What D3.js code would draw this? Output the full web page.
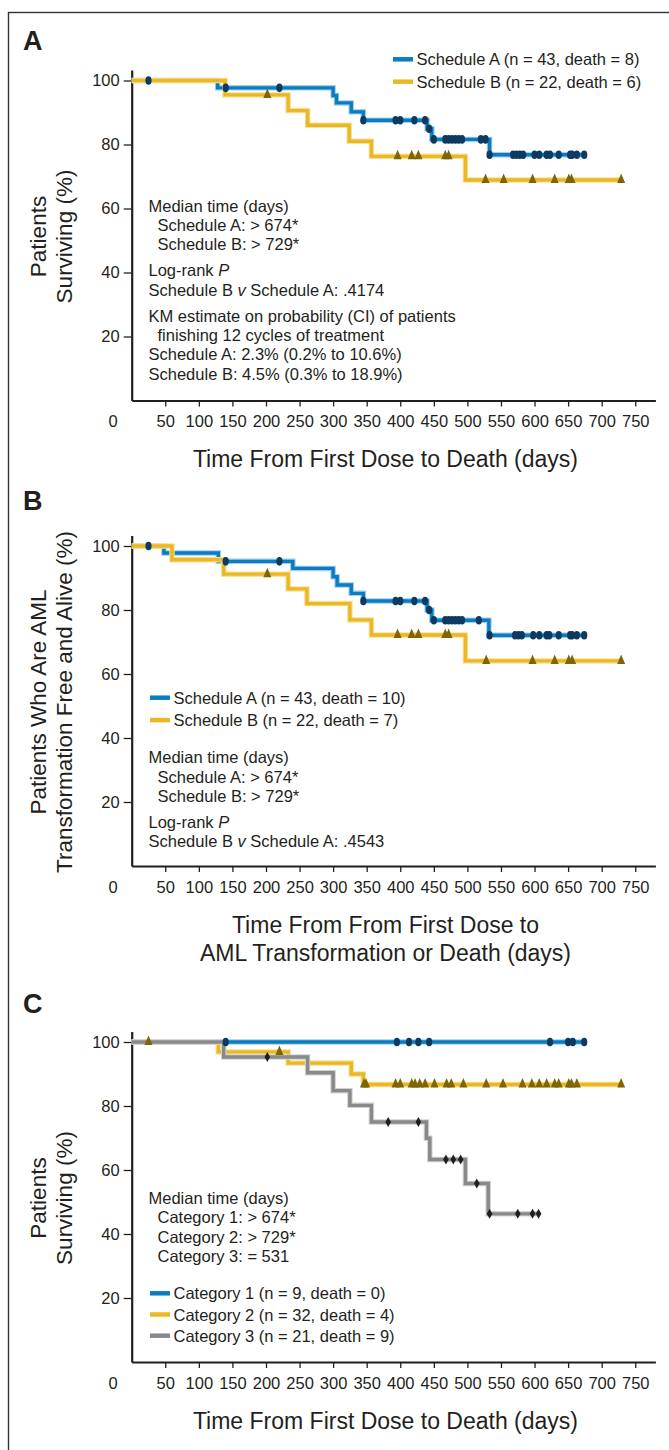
<!DOCTYPE html>
<meta charset="utf-8">
<head>
  <title>Kaplan-Meier curves</title>
  <script src="https://d3js.org/d3.v7.min.js"></script>
  <style>
    body { margin: 0; background: #fff; }
    svg text { font-family: "Liberation Sans", Arial, sans-serif; fill: #231f20; }
    .axis path, .axis line { stroke: #231f20; }
  </style>
</head>
<body>
<svg></svg>
<script>
// ---- data (days, % surviving) ----
var xTicks = [50, 100, 150, 200, 250, 300, 350, 400, 450, 500, 550, 600, 650, 700, 750];
var yTicks = [20, 40, 60, 80, 100];

// panel A: overall survival
var aSchedA_steps = [128, 300, 305, 327, 345, 440, 447, 533];
var aSchedA_vals  = [97.7, 95.3, 93.0, 90.2, 87.6, 84.9, 81.6, 76.8];
var aSchedA_cens  = [25, 140, 220, 345, 393, 400, 421, 437, 443, 450, 467, 472, 477, 482, 487, 492,
                     520, 527, 533, 568, 573, 578, 583, 600, 607, 618, 623, 636, 653, 656, 663, 674];
var aSchedB_steps = [139, 233, 262, 324, 357, 497];
var aSchedB_vals  = [95.5, 90.6, 86.0, 81.0, 76.3, 68.9];
var aSchedB_cens  = [202, 396, 417, 427, 467, 472, 527, 554, 597, 630, 651, 655, 729];

// panel B: AML-transformation-free survival
var bSchedA_steps = [48, 129, 240, 300, 306, 327, 345, 440, 447, 532];
var bSchedA_vals  = [97.8, 95.2, 93.0, 90.4, 87.8, 85.2, 82.8, 80.0, 76.8, 72.1];
var bSchedA_cens  = [25, 140, 220, 345, 393, 400, 421, 437, 443, 450, 467, 472, 477, 482, 487, 492,
                     517, 533, 571, 576, 581, 598, 607, 618, 622, 636, 653, 656, 663, 674];
var bSchedB_steps = [60, 137, 233, 261, 325, 357, 497];
var bSchedB_vals  = [95.7, 91.2, 86.6, 82.0, 76.9, 72.2, 64.1];
var bSchedB_cens  = [202, 396, 417, 427, 467, 472, 528, 597, 630, 651, 656, 729];

// panel C: survival by category
var cCat1_steps = [];
var cCat1_vals  = [];
var cCat1_cens  = [140, 395, 413, 427, 443, 623, 650, 657, 674];
var cCat2_steps = [129, 233, 327, 345];
var cCat2_vals  = [96.9, 93.4, 90.0, 86.7];
var cCat2_cens  = [25, 220, 346, 349, 393, 400, 417, 422, 429, 437, 451, 469, 476, 494, 528, 553,
                   582, 596, 607, 618, 630, 636, 651, 655, 663, 729];
var cCat3_steps = [137, 262, 300, 325, 357, 439, 444, 497, 531];
var cCat3_vals  = [95.3, 90.4, 84.8, 80.2, 75.0, 69.9, 63.3, 55.8, 46.3];
var cCat3_cens  = [202, 382, 427, 468, 479, 490, 514, 533, 575, 597, 606];

// ---- text ----
var legendA = ["Schedule A (n = 43, death = 8)", "Schedule B (n = 22, death = 6)"];
var legendB = ["Schedule A (n = 43, death = 10)", "Schedule B (n = 22, death = 7)"];
var legendC = ["Category 1 (n = 9, death = 0)", "Category 2 (n = 32, death = 4)", "Category 3 (n = 21, death = 9)"];

var notesA = [
  [["Median time (days)", 0], ["Schedule A: > 674*", 1], ["Schedule B: > 729*", 1]],
  [["Log-rank |P|", 0], ["Schedule B |v| Schedule A: .4174", 0]],
  [["KM estimate on probability (CI) of patients", 0], ["finishing 12 cycles of treatment", 1],
   ["Schedule A: 2.3% (0.2% to 10.6%)", 0], ["Schedule B: 4.5% (0.3% to 18.9%)", 0]]
];
var notesB = [
  [["Median time (days)", 0], ["Schedule A: > 674*", 1], ["Schedule B: > 729*", 1]],
  [["Log-rank |P|", 0], ["Schedule B |v| Schedule A: .4543", 0]]
];
var notesC = [
  [["Median time (days)", 0], ["Category 1: > 674*", 1], ["Category 2: > 729*", 1], ["Category 3: = 531", 1]]
];

var BLUE = {line: "#0a7cc2", halo: "#a3cdea", mark: "#0c3a60", shape: "dot"};
var YELLOW = {line: "#ebb823", halo: "#f7e09c", mark: "#7d6506", shape: "tri"};
var GRAY = {line: "#88898b", halo: "#d2d2d2", mark: "#1f1f1f", shape: "diamond"};

var panels = [
  { letter: "A", letterY: 50, top: 80.5,
    ytitle: ["Patients", "Surviving (%)"],
    xtitle: ["Time From First Dose to Death (days)"],
    series: [
      {st: BLUE, steps: aSchedA_steps, vals: aSchedA_vals, cens: aSchedA_cens},
      {st: YELLOW, steps: aSchedB_steps, vals: aSchedB_vals, cens: aSchedB_cens}],
    legend: legendA, legendColors: [BLUE, YELLOW], legendX: 393, legendY: 59.3,
    notes: notesA, notesY: 211.7 },
  { letter: "B", letterY: 510, top: 546,
    ytitle: ["Patients Who Are AML", "Transformation Free and Alive (%)"],
    xtitle: ["Time From From First Dose to", "AML Transformation or Death (days)"],
    series: [
      {st: BLUE, steps: bSchedA_steps, vals: bSchedA_vals, cens: bSchedA_cens},
      {st: YELLOW, steps: bSchedB_steps, vals: bSchedB_vals, cens: bSchedB_cens}],
    legend: legendB, legendColors: [BLUE, YELLOW], legendX: 150, legendY: 697.7,
    notes: notesB, notesY: 763.3 },
  { letter: "C", letterY: 1013, top: 1042,
    ytitle: ["Patients", "Surviving (%)"],
    xtitle: ["Time From First Dose to Death (days)"],
    series: [
      {st: BLUE, steps: cCat1_steps, vals: cCat1_vals, cens: cCat1_cens},
      {st: YELLOW, steps: cCat2_steps, vals: cCat2_vals, cens: cCat2_cens},
      {st: GRAY, steps: cCat3_steps, vals: cCat3_vals, cens: cCat3_cens}],
    legend: legendC, legendColors: [BLUE, YELLOW, GRAY], legendX: 150, legendY: 1293.3, legendGap: 21.2,
    notes: notesC, notesY: 1204 }
];

var width = 669, height = 1450;
var svg = d3.select("svg").attr("width", width).attr("height", height);

// outer frame (open on the right / bottom like the figure)
svg.append("rect")
  .attr("x", 8.5).attr("y", 12.5).attr("width", 700).attr("height", 1500)
  .attr("fill", "none").attr("stroke", "#333").attr("stroke-width", 1.4);

var x = d3.scaleLinear().domain([0, 780]).range([131.7, 655.4]);
var pxPerPct = 3.2;
var yMax = 103.3;

function valueAt(s, t) {
  var v = 100;
  s.steps.forEach(function(d, i) { if (d <= t) v = s.vals[i]; });
  return v;
}

function drawPanel(p) {
  var g = svg.append("g");
  var y = d3.scaleLinear().domain([0, yMax]).range([p.top + 100 * pxPerPct, p.top + (100 - yMax) * pxPerPct]);
  var y0 = y(0);

  g.append("text").attr("x", 23).attr("y", p.letterY)
    .style("font-size", "27px").style("font-weight", "bold").text(p.letter);

  // axes
  var xAxis = d3.axisBottom(x).tickValues(xTicks).tickSizeInner(6).tickSizeOuter(0).tickPadding(9);
  var yAxis = d3.axisLeft(y).tickValues(yTicks).tickSizeInner(8).tickSizeOuter(0).tickPadding(4);

  var gx = g.append("g").attr("class", "axis").attr("transform", "translate(0," + y0 + ")").call(xAxis);
  var gy = g.append("g").attr("class", "axis").attr("transform", "translate(" + x(0) + ",0)").call(yAxis);
  [gx, gy].forEach(function(a) {
    a.attr("font-family", null).attr("font-size", null);
    a.select(".domain").attr("stroke-width", 2.2);
    a.selectAll(".tick line").attr("stroke-width", 1.3);
    a.selectAll(".tick text").style("font-size", "16.5px").attr("fill", "#231f20");
  });
  g.append("text").attr("x", x(0) - 18.5).attr("y", y0 + 26.8)
    .attr("text-anchor", "middle").style("font-size", "16.5px").text("0");

  // axis titles
  var xmid = (x(0) + x(750)) / 2 + 2;
  p.xtitle.forEach(function(t, i) {
    g.append("text").attr("x", xmid).attr("y", y0 + 66.5 + i * 28.4)
      .attr("text-anchor", "middle").style("font-size", "23px").text(t);
  });
  var ymid = (y(0) + y(100)) / 2 - 4;
  p.ytitle.forEach(function(t, i) {
    g.append("text")
      .attr("transform", "translate(" + (46 + i * 26) + "," + ymid + ") rotate(-90)")
      .attr("text-anchor", "middle").style("font-size", "22.5px").text(t);
  });

  // curves
  var line = d3.line().curve(d3.curveStepAfter)
    .x(function(d) { return x(d[0]); }).y(function(d) { return y(d[1]); });

  p.series.forEach(function(s) {
    var end = d3.max(s.cens.concat(s.steps));
    var pts = [[0, 100]];
    s.steps.forEach(function(d, i) { pts.push([d, s.vals[i]]); });
    pts.push([end, valueAt(s, end)]);
    g.append("path").datum(pts).attr("d", line)
      .attr("fill", "none").attr("stroke", s.st.halo).attr("stroke-width", 5.5);
    g.append("path").datum(pts).attr("d", line)
      .attr("fill", "none").attr("stroke", s.st.line).attr("stroke-width", 3.4);
  });

  p.series.forEach(function(s) {
    var marks = g.append("g").selectAll("path").data(s.cens).enter().append("path")
      .attr("fill", s.st.mark)
      .attr("transform", function(d) { return "translate(" + x(d) + "," + y(valueAt(s, d)) + ")"; });
    if (s.st.shape === "dot") {
      marks.attr("d", "M0,-4.3 A3.1,4.3 0 1,1 0,4.3 A3.1,4.3 0 1,1 0,-4.3Z");
    } else if (s.st.shape === "tri") {
      marks.attr("d", "M0,-6.5 L4,3 L-4,3Z");
    } else {
      marks.attr("d", "M0,-5 L2.8,0 L0,5 L-2.8,0Z");
    }
  });

  // legend
  var gap = p.legendGap || 22.4;
  p.legend.forEach(function(t, i) {
    var ly = p.legendY + i * gap;
    g.append("line").attr("x1", p.legendX).attr("x2", p.legendX + 20)
      .attr("y1", ly).attr("y2", ly)
      .attr("stroke", p.legendColors[i].line).attr("stroke-width", 4.5);
    g.append("text").attr("x", p.legendX + 23.5).attr("y", ly + 6)
      .style("font-size", "16.5px").text(t);
  });

  // notes
  var ny = p.notesY;
  p.notes.forEach(function(group, gi) {
    if (gi > 0) ny += 26;
    group.forEach(function(ln, li) {
      if (li > 0) ny += 19.3;
      var txt = g.append("text").attr("x", 148.5 + ln[1] * 9).attr("y", ny).style("font-size", "16.5px");
      ln[0].split("|").forEach(function(part, k) {
        txt.append("tspan").style("font-style", k % 2 ? "italic" : "normal").text(part);
      });
    });
  });
}

panels.forEach(drawPanel);
</script>
</body>
